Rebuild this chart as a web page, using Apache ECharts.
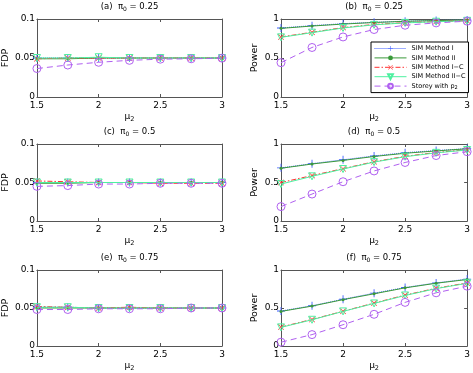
<!DOCTYPE html>
<html>
<head>
<meta charset="utf-8">
<script src="https://cdn.jsdelivr.net/npm/echarts@6/dist/echarts.min.js"></script>
<style>
  html, body { margin: 0; padding: 0; background: #fff; }
  #main { width: 473px; height: 373px; }
</style>
</head>
<body>
<div id="main"></div>
<script>
// x values (mu_2)
var mu2 = [1.5, 1.75, 2, 2.25, 2.5, 2.75, 3];

// (a) FDP, pi0 = 0.25
var fdpA_I   = [0.050, 0.050, 0.050, 0.050, 0.050, 0.050, 0.050];
var fdpA_II  = [0.049, 0.049, 0.050, 0.050, 0.050, 0.050, 0.050];
var fdpA_IC  = [0.049, 0.050, 0.050, 0.050, 0.050, 0.050, 0.050];
var fdpA_IIC = [0.050, 0.050, 0.051, 0.050, 0.050, 0.050, 0.050];
var fdpA_St  = [0.0365, 0.041, 0.0445, 0.047, 0.0485, 0.049, 0.0498];

// (c) FDP, pi0 = 0.5
var fdpC_I   = [0.050, 0.050, 0.050, 0.050, 0.050, 0.050, 0.050];
var fdpC_II  = [0.049, 0.049, 0.050, 0.050, 0.050, 0.050, 0.050];
var fdpC_IC  = [0.052, 0.051, 0.050, 0.050, 0.049, 0.049, 0.049];
var fdpC_IIC = [0.050, 0.050, 0.050, 0.050, 0.050, 0.050, 0.050];
var fdpC_St  = [0.045, 0.046, 0.048, 0.048, 0.049, 0.049, 0.049];

// (e) FDP, pi0 = 0.75
var fdpE_I   = [0.051, 0.051, 0.050, 0.050, 0.050, 0.050, 0.050];
var fdpE_II  = [0.050, 0.050, 0.050, 0.050, 0.050, 0.050, 0.050];
var fdpE_IC  = [0.052, 0.051, 0.050, 0.051, 0.050, 0.050, 0.050];
var fdpE_IIC = [0.051, 0.051, 0.050, 0.050, 0.050, 0.050, 0.050];
var fdpE_St  = [0.048, 0.048, 0.049, 0.049, 0.049, 0.050, 0.050];

// (b) Power, pi0 = 0.25
var powB_I   = [0.885, 0.915, 0.940, 0.958, 0.972, 0.982, 0.988];
var powB_II  = [0.880, 0.910, 0.935, 0.955, 0.970, 0.980, 0.987];
var powB_IC  = [0.770, 0.830, 0.890, 0.930, 0.953, 0.967, 0.978];
var powB_IIC = [0.765, 0.825, 0.885, 0.925, 0.950, 0.965, 0.977];
var powB_St  = [0.440, 0.635, 0.770, 0.865, 0.920, 0.950, 0.972];

// (d) Power, pi0 = 0.5
var powD_I   = [0.690, 0.745, 0.795, 0.845, 0.887, 0.915, 0.940];
var powD_II  = [0.685, 0.740, 0.787, 0.838, 0.880, 0.910, 0.938];
var powD_IC  = [0.500, 0.590, 0.680, 0.770, 0.840, 0.890, 0.925];
var powD_IIC = [0.480, 0.580, 0.675, 0.765, 0.835, 0.885, 0.922];
var powD_St  = [0.187, 0.350, 0.510, 0.650, 0.760, 0.850, 0.900];

// (f) Power, pi0 = 0.75
var powF_I   = [0.460, 0.530, 0.615, 0.695, 0.770, 0.830, 0.880];
var powF_II  = [0.455, 0.525, 0.610, 0.687, 0.765, 0.826, 0.875];
var powF_IC  = [0.250, 0.350, 0.457, 0.565, 0.670, 0.760, 0.830];
var powF_IIC = [0.245, 0.345, 0.455, 0.560, 0.665, 0.755, 0.825];
var powF_St  = [0.050, 0.150, 0.280, 0.417, 0.574, 0.700, 0.787];

var panels = [
    { tag: '(a)', pi: '0.25', yname: 'FDP',   ymax: 0.1, step: 0.05, d: [fdpA_I, fdpA_II, fdpA_IC, fdpA_IIC, fdpA_St] },
    { tag: '(b)', pi: '0.25', yname: 'Power', ymax: 1,   step: 0.5,  d: [powB_I, powB_II, powB_IC, powB_IIC, powB_St] },
    { tag: '(c)', pi: '0.5',  yname: 'FDP',   ymax: 0.1, step: 0.05, d: [fdpC_I, fdpC_II, fdpC_IC, fdpC_IIC, fdpC_St] },
    { tag: '(d)', pi: '0.5',  yname: 'Power', ymax: 1,   step: 0.5,  d: [powD_I, powD_II, powD_IC, powD_IIC, powD_St] },
    { tag: '(e)', pi: '0.75', yname: 'FDP',   ymax: 0.1, step: 0.05, d: [fdpE_I, fdpE_II, fdpE_IC, fdpE_IIC, fdpE_St] },
    { tag: '(f)', pi: '0.75', yname: 'Power', ymax: 1,   step: 0.5,  d: [powF_I, powF_II, powF_IC, powF_IIC, powF_St] }
];

var names = ['SIM Method I', 'SIM Method II', 'SIM Method I\u2212C', 'SIM Method II\u2212C', 'Storey with p2'];

// marker shapes
var plusPath = 'path://M4.45,0h1.1v10h-1.1z M0,4.45h10v1.1h-10z';
var crossPath = 'path://M0,0.8L0.8,0L10,9.2L9.2,10Z M9.2,0L10,0.8L0.8,10L0,9.2Z';
var triPath = 'path://M0,0L10,0L5,8.7Z';

var styles = [
    { color: '#3d5cff', type: 'dotted', symbol: plusPath, size: 8, hollow: false },
    { color: '#3a9a3a', type: 'solid', symbol: 'circle', size: 3, hollow: false },
    { color: '#ff3030', type: [5, 2, 1.5, 2], symbol: crossPath, size: 6, hollow: false },
    { color: '#4ef0a0', type: 'solid', symbol: triPath, size: 7, hollow: true },
    { color: '#b060f0', type: [6, 4], symbol: 'circle', size: 8, hollow: true }
];

var colLeft = [35, 281];
var colWidth = [187, 188];
var rowTop = [19, 144, 270];
var rowHeight = [78, 77, 77];

var font = 'DejaVu Sans, sans-serif';
var frame = '#555';

var grids = [], xAxes = [], yAxes = [], series = [];

panels.forEach(function (p, i) {
    var col = i % 2, row = Math.floor(i / 2);
    grids.push({ left: colLeft[col], top: rowTop[row], width: colWidth[col], height: rowHeight[row] });

    var tick = { show: true, inside: true, length: 3, lineStyle: { color: frame, width: 1 } };
    var line = { show: true, onZero: false, lineStyle: { color: frame, width: 1 } };

    // bottom x axis
    xAxes.push({
        type: 'value', gridIndex: i, position: 'bottom', min: 1.5, max: 3, interval: 0.5,
        axisLine: line, axisTick: tick, splitLine: { show: false },
        axisLabel: { color: '#000', fontSize: 9, fontFamily: font, margin: 4 },
        name: '{m|\u03bc}{s|2}', nameLocation: 'middle', nameGap: 13,
        nameTextStyle: { rich: {
            m: { fontSize: 9, fontFamily: font, color: '#000' },
            s: { fontSize: 6.5, fontFamily: font, color: '#000', padding: [6, 0, 0, 0] }
        } }
    });
    // top mirror axis, carries the panel title
    xAxes.push({
        type: 'value', gridIndex: i, position: 'top', min: 1.5, max: 3, interval: 0.5,
        axisLine: line, axisTick: tick, axisLabel: { show: false }, splitLine: { show: false },
        name: '{t|' + p.tag + '  \u03c0}{s|0}{t| = ' + p.pi + '}', nameLocation: 'middle', nameGap: 7,
        nameTextStyle: { rich: {
            t: { fontSize: 8.5, fontFamily: font, color: '#000' },
            s: { fontSize: 6, fontFamily: font, color: '#000', padding: [5, 0, 0, 0] }
        } }
    });
    // left y axis
    yAxes.push({
        type: 'value', gridIndex: i, position: 'left', min: 0, max: p.ymax, interval: p.step,
        axisLine: line, axisTick: tick, splitLine: { show: false },
        axisLabel: { color: '#000', fontSize: 9, fontFamily: font, margin: 2 },
        name: p.yname, nameLocation: 'middle', nameGap: col === 0 ? 25 : 21,
        nameTextStyle: { color: '#000', fontSize: 9.5, fontFamily: font }
    });
    // right mirror axis
    yAxes.push({
        type: 'value', gridIndex: i, position: 'right', min: 0, max: p.ymax, interval: p.step,
        axisLine: line, axisTick: tick, axisLabel: { show: false }, splitLine: { show: false }
    });

    p.d.forEach(function (vals, k) {
        var s = styles[k];
        series.push({
            name: names[k], type: 'line',
            xAxisIndex: i * 2, yAxisIndex: i * 2,
            data: mu2.map(function (x, j) { return [x, vals[j]]; }),
            symbol: s.symbol, symbolSize: s.size, showSymbol: true,
            lineStyle: { color: s.color, width: 1, type: s.type },
            itemStyle: s.hollow
                ? { color: 'rgba(0,0,0,0)', borderColor: s.color, borderWidth: 1 }
                : { color: s.color, borderWidth: 0 },
            emphasis: { disabled: true },
            animation: false, z: 2 + k
        });
    });
});

var option = {
    backgroundColor: '#fff',
    animation: false,
    grid: grids,
    xAxis: xAxes,
    yAxis: yAxes,
    legend: {
        data: names,
        orient: 'vertical',
        left: 371, top: 42,
        padding: [3, 3, 2, 3],
        itemWidth: 32, itemHeight: 6, itemGap: 2.4,
        borderColor: '#000', borderWidth: 1,
        backgroundColor: '#fff',
        selectedMode: false,
        lineStyle: { width: 1, type: 'inherit' },
        formatter: function (n) {
            return n === 'Storey with p2' ? '{t|Storey with p}{s|2}' : '{t|' + n + '}';
        },
        textStyle: {
            rich: {
                t: { fontSize: 6.5, fontFamily: font, color: '#000' },
                s: { fontSize: 5, fontFamily: font, color: '#000', padding: [4, 0, 0, 0] }
            }
        }
    },
    series: series
};

var myChart = echarts.init(document.getElementById('main'));
myChart.setOption(option);
</script>
</body>
</html>
